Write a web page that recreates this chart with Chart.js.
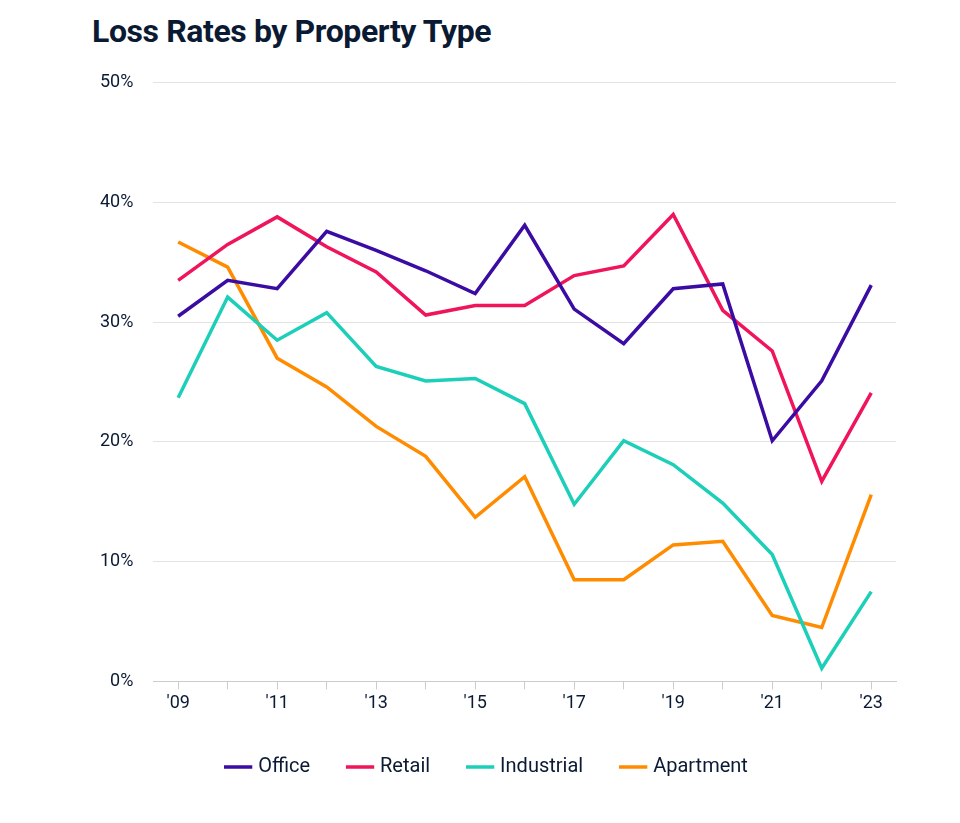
<!DOCTYPE html>
<html lang="en">
<head>
<meta charset="UTF-8">
<title>Loss Rates by Property Type</title>
<script src="https://cdn.jsdelivr.net/npm/chart.js"></script>
<style>
  body { margin: 0; background: #fff; font-family: Roboto, Arial, sans-serif; }
  h1 { position: absolute; left: 92px; top: 12px; margin: 0; font-size: 32px; font-weight: 700; color: #0b1a33; letter-spacing: -0.4px; }
  #wrap { position: absolute; left: 80px; top: 52px; width: 826px; height: 735px; }
</style>
</head>
<body>
<h1>Loss Rates by Property Type</h1>
<div id="wrap"><canvas id="chart"></canvas></div>
<script>
// years 2009..2023
var years = ["'09","'10","'11","'12","'13","'14","'15","'16","'17","'18","'19","'20","'21","'22","'23"];
var office = [30.5, 33.5, 32.8, 37.6, 36.0, 34.3, 32.4, 38.1, 31.1, 28.2, 32.8, 33.2, 20.1, 25.1, 33.1];
var retail = [33.5, 36.5, 38.8, 36.3, 34.2, 30.6, 31.4, 31.4, 33.9, 34.7, 39.0, 31.0, 27.6, 16.7, 24.1];
var industrial = [23.7, 32.1, 28.5, 30.8, 26.3, 25.1, 25.3, 23.2, 14.8, 20.1, 18.1, 14.9, 10.6, 1.1, 7.5];
var apartment = [36.7, 34.6, 27.0, 24.6, 21.3, 18.8, 13.7, 17.1, 8.5, 8.5, 11.4, 11.7, 5.5, 4.5, 15.6];

function series(label, data, color) {
  return { label: label, data: data, borderColor: color, backgroundColor: color,
    borderWidth: 3.5, pointRadius: 0, tension: 0, fill: false };
}

new Chart(document.getElementById('chart'), {
  type: 'line',
  data: {
    labels: years,
    datasets: [
      series('Office', office, '#3a0ca3'),
      series('Retail', retail, '#f0145a'),
      series('Industrial', industrial, '#1ccfb8'),
      series('Apartment', apartment, '#ff8c00')
    ]
  },
  options: {
    responsive: true,
    maintainAspectRatio: false,
    animation: false,
    layout: { padding: { right: 10 } },
    plugins: {
      legend: {
        position: 'bottom',
        labels: { usePointStyle: true, pointStyle: 'line', boxWidth: 56, padding: 40,
          color: '#0b1a33', font: { family: 'Roboto', size: 20 } }
      },
      tooltip: { enabled: false }
    },
    scales: {
      x: {
        offset: true,
        grid: { display: true, drawOnChartArea: false, drawTicks: true, tickLength: 8, color: '#cccccc' },
        border: { color: '#cccccc' },
        ticks: {
          autoSkip: false, maxRotation: 0, color: '#0b1a33', font: { family: 'Roboto', size: 18 },
          callback: function (v, i) { return i % 2 === 0 ? years[i] : ''; }
        }
      },
      y: {
        min: 0, max: 50,
        grid: { color: '#e3e3e3', drawTicks: false },
        border: { display: false },
        ticks: { stepSize: 10, padding: 20, color: '#0b1a33', font: { family: 'Roboto', size: 18 },
          callback: function (v) { return v + '%'; } }
      }
    }
  }
});
</script>
</body>
</html>
